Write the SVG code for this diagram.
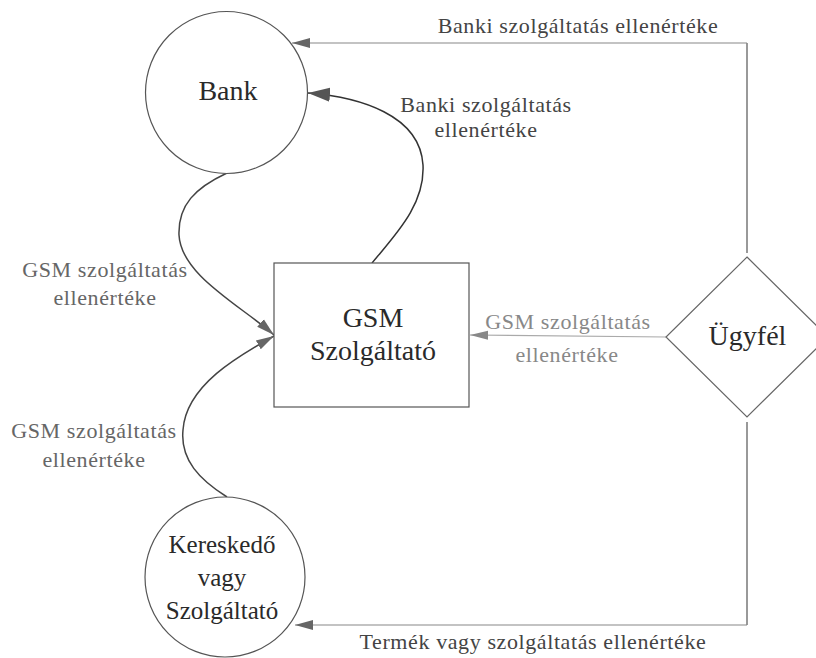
<svg xmlns="http://www.w3.org/2000/svg" width="816" height="658" viewBox="0 0 816 658">
<style>
.node{fill:#fff;stroke:#555;stroke-width:1.2}
.nt{font-family:'Liberation Serif',serif;font-size:28px;fill:#2a2a2a;text-anchor:middle}
.nt2{font-family:'Liberation Serif',serif;font-size:25px;fill:#2a2a2a;text-anchor:middle}
.lbl{font-family:'Liberation Serif',serif;font-size:22px;text-anchor:middle;letter-spacing:0.6px}
.curve{fill:none;stroke:#333;stroke-width:1.5}
.flow{fill:none;stroke:#888;stroke-width:1.2}
.vert{fill:none;stroke:#555;stroke-width:1.2}
</style>
<defs>
<marker id="ahBig" markerUnits="userSpaceOnUse" markerWidth="24" markerHeight="16" viewBox="0 0 24 16" refX="22" refY="8" orient="auto">
<path d="M0,1 L22,8 L0,15 Z" fill="#555"/>
</marker>
<marker id="ahSmall" markerUnits="userSpaceOnUse" markerWidth="20" markerHeight="12" viewBox="0 0 20 12" refX="18" refY="6" orient="auto">
<path d="M0,1 L18,6 L0,11 Z" fill="#666"/>
</marker>
<marker id="ahLight" markerUnits="userSpaceOnUse" markerWidth="20" markerHeight="12" viewBox="0 0 20 12" refX="18" refY="6" orient="auto">
<path d="M0,1.5 L18,6 L0,10.5 Z" fill="#888"/>
</marker>
</defs>
<rect width="816" height="658" fill="#fff"/>
<g id="connectors">
<path class="vert" d="M747,253 L747,43"/>
<path class="flow" d="M747,43 L292,43" marker-end="url(#ahSmall)"/>
<path class="vert" d="M747,422 L747,625"/>
<path class="flow" d="M747,625 L295,625" marker-end="url(#ahSmall)"/>
<path class="flow" d="M666,337 L470,335" style="stroke:#aaa" marker-end="url(#ahLight)"/>
<path class="curve" d="M372,263 C395,235 425,205 423,165 C420,115 360,97 308,93" marker-end="url(#ahBig)"/>
<path class="curve" d="M227,173 C195,188 178,205 179,235 C181,275 240,305 274,335" style="stroke:#444" marker-end="url(#ahSmall)"/>
<path class="curve" d="M227,497 C200,480 180,460 183,430 C186,385 240,355 274,336" style="stroke:#444" marker-end="url(#ahSmall)"/>
<text class="lbl" x="578" y="33" fill="#444">Banki szolgáltatás ellenértéke</text>
<text class="lbl" x="486" y="112" fill="#444">Banki szolgáltatás</text>
<text class="lbl" x="486" y="137" fill="#444">ellenértéke</text>
<text class="lbl" x="105" y="277" fill="#666">GSM szolgáltatás</text>
<text class="lbl" x="105" y="305" fill="#666">ellenértéke</text>
<text class="lbl" x="94" y="438" fill="#666">GSM szolgáltatás</text>
<text class="lbl" x="94" y="467" fill="#666">ellenértéke</text>
<text class="lbl" x="568" y="329" fill="#888">GSM szolgáltatás</text>
<text class="lbl" x="567" y="362" fill="#888">ellenértéke</text>
<text class="lbl" x="533" y="649" fill="#444">Termék vagy szolgáltatás ellenértéke</text>
</g>
<g id="bank">
<circle class="node" cx="226.5" cy="92.5" r="81"/>
<text class="nt" x="228" y="100">Bank</text>
</g>
<g id="gsm">
<rect class="node" x="274" y="263" width="195" height="144"/>
<text class="nt" x="373" y="327">GSM</text>
<text class="nt" x="373" y="360">Szolgáltató</text>
</g>
<g id="ugyfel">
<polygon class="node" points="747,257 828,337 747,417 666,337" style="stroke:#666"/>
<text class="nt" x="747.5" y="345">Ügyfél</text>
</g>
<g id="kereskedo">
<circle class="node" cx="225" cy="577" r="80"/>
<text class="nt2" x="222" y="553">Kereskedő</text>
<text class="nt2" x="222" y="586">vagy</text>
<text class="nt2" x="222" y="619">Szolgáltató</text>
</g>
</svg>
